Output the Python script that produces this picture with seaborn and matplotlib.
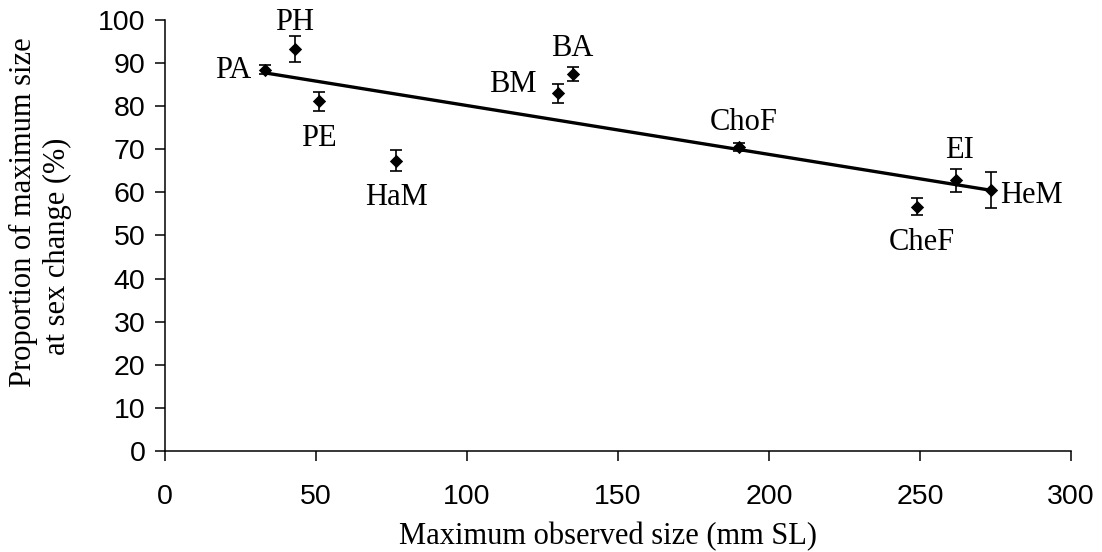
import numpy as np
import pandas as pd
import matplotlib
matplotlib.use("Agg")
import matplotlib.pyplot as plt
import seaborn as sns

# Species / population codes
codes = ["PA", "PH", "PE", "HaM", "BM", "BA", "ChoF", "CheF", "EI", "HeM"]
# Maximum observed size (mm SL)
max_size = [33, 43, 51, 76.5, 130, 135, 190, 249, 262, 273.5]
# Proportion of maximum size at sex change (%)
prop_change = [88.5, 93.2, 81.1, 67.4, 83.0, 87.5, 70.5, 56.7, 62.8, 60.6]
# Error bar half-widths
prop_err = [1.0, 3.0, 2.2, 2.4, 2.2, 1.6, 1.0, 2.0, 2.7, 4.2]
# Label anchor positions (x, y) and horizontal alignment
label_x = [28.5, 43, 51, 76.5, 123, 135, 191.5, 250.5, 263, 276.5]
label_y = [88.3, 99.5, 72.6, 58.8, 85.0, 93.5, 76.3, 48.3, 69.8, 59.3]
label_ha = ["right", "center", "center", "center", "right", "center", "center",
            "center", "center", "left"]

df = pd.DataFrame({"code": codes, "size": max_size, "prop": prop_change, "err": prop_err})

sns.set_style("ticks")
plt.rcParams.update({"text.color": "black", "axes.labelcolor": "black",
                     "xtick.color": "black", "ytick.color": "black",
                     "axes.edgecolor": "black"})
serif = ["Liberation Serif", "DejaVu Serif"]
sans = ["Liberation Sans", "DejaVu Sans"]

W, H = 1102, 552
fig = plt.figure(figsize=(W / 100, H / 100), dpi=100)
ax = fig.add_axes([165 / W, 1 - 451 / H, 906 / W, 431 / H])

# Fitted regression line across the observed size range
sns.regplot(data=df, x="size", y="prop", scatter=False, ci=None, truncate=True,
            color="black", line_kws={"linewidth": 2.4}, ax=ax)

ax.errorbar(df["size"], df["prop"], yerr=df["err"], fmt="none", ecolor="black",
            elinewidth=1.2, capsize=4.2, capthick=1.2, zorder=3)
sns.scatterplot(data=df, x="size", y="prop", marker="D", color="black", s=46,
                edgecolor="black", linewidth=0, zorder=4, ax=ax)

for lx, ly, ha, txt in zip(label_x, label_y, label_ha, codes):
    ax.text(lx, ly, txt, ha=ha, va="center", fontsize=22, family=serif, color="black")

ax.set_xlim(0, 300)
ax.set_ylim(0, 100)
ax.set_xticks(np.arange(0, 301, 50))
ax.set_yticks(np.arange(0, 101, 10))
ax.tick_params(axis="both", direction="out", length=7, width=1.1, labelsize=20.5,
               color="black", labelcolor="black")
ax.tick_params(axis="x", pad=17)
ax.tick_params(axis="y", pad=7)
for lab in ax.get_xticklabels() + ax.get_yticklabels():
    lab.set_family(sans)

ax.set_xlabel("")
ax.set_ylabel("")
fig.text(608 / W, 1 - 544 / H, "Maximum observed size (mm SL)", ha="center",
         va="baseline", fontsize=22, family=serif, color="black")
fig.text(23 / W, 1 - 212 / H, "Proportion of maximum size", rotation=90,
         ha="center", va="center", fontsize=22, family=serif, color="black")
fig.text(57 / W, 1 - 246 / H, "at sex change (%)", rotation=90,
         ha="center", va="center", fontsize=22, family=serif, color="black")

sns.despine(ax=ax)
for sp in ("left", "bottom"):
    ax.spines[sp].set_linewidth(1.1)
    ax.spines[sp].set_color("black")

fig.savefig("out.png", dpi=100)
